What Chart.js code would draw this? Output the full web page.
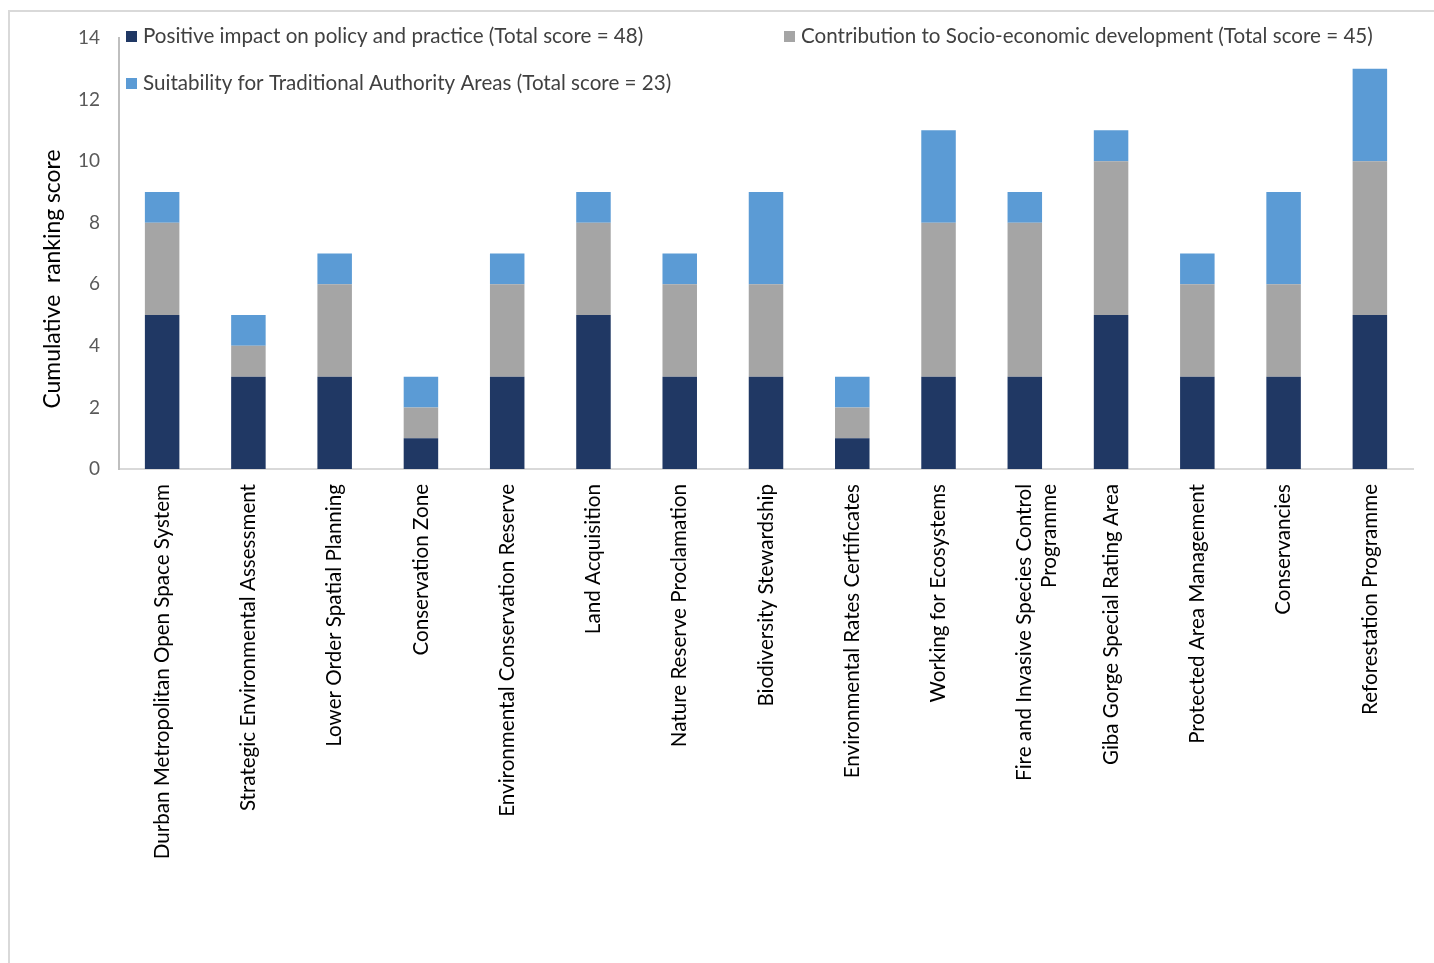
<!DOCTYPE html>
<html>
<head>
<meta charset="utf-8">
<title>Cumulative ranking score</title>
<script src="https://cdn.jsdelivr.net/npm/chart.js@4.4.1/dist/chart.umd.min.js"></script>
<style>
    html, body { margin: 0; padding: 0; background: #fff; }
    #wrap { width: 1434px; height: 963px; }
</style>
</head>
<body>
<div id="wrap"><canvas id="chart" width="1434" height="963"></canvas></div>
<script>
// Chart data
const categories = [
    'Durban Metropolitan Open Space System',
    'Strategic Environmental Assessment',
    'Lower Order Spatial Planning',
    'Conservation Zone',
    'Environmental Conservation Reserve',
    'Land Acquisition',
    'Nature Reserve Proclamation',
    'Biodiversity Stewardship',
    'Environmental Rates Certificates',
    'Working for Ecosystems',
    ['Fire and Invasive Species Control', 'Programme'],
    'Giba Gorge Special Rating Area',
    'Protected Area Management',
    'Conservancies',
    'Reforestation Programme'
];
const policyScores      = [5, 3, 3, 1, 3, 5, 3, 3, 1, 3, 3, 5, 3, 3, 5];
const socioScores       = [3, 1, 3, 1, 3, 3, 3, 3, 1, 5, 5, 5, 3, 3, 5];
const traditionalScores = [1, 1, 1, 1, 1, 1, 1, 3, 1, 3, 1, 1, 1, 3, 3];
const seriesNames = [
    'Positive impact on policy and practice (Total score = 48)',
    'Contribution to Socio-economic development (Total score = 45)',
    'Suitability for Traditional Authority Areas (Total score = 23)'
];
const yMin = 0, yMax = 14, yStep = 2;
const yTitle = 'Cumulative  ranking score';

const FONT = 'Lato, "Open Sans", sans-serif';

// thin grey frame around the figure (top + left edge)
const framePlugin = {
    id: 'frame',
    beforeDraw(chart) {
        const ctx = chart.ctx;
        ctx.save();
        ctx.strokeStyle = '#d9d9d9';
        ctx.lineWidth = 2;
        ctx.beginPath();
        ctx.moveTo(9, chart.height);
        ctx.lineTo(9, 11);
        ctx.lineTo(chart.width, 11);
        ctx.stroke();
        ctx.restore();
    }
};

// legend drawn inside the plot area, like the original
const legendPlugin = {
    id: 'innerLegend',
    afterDraw(chart) {
        const ctx = chart.ctx;
        const spots = [[126, 36], [784, 36], [126, 83]];
        ctx.save();
        ctx.font = '20.6px ' + FONT;
        ctx.textBaseline = 'middle';
        chart.data.datasets.forEach((ds, i) => {
            const [x, y] = spots[i];
            ctx.fillStyle = ds.backgroundColor;
            ctx.fillRect(x, y - 5, 11, 11);
            ctx.fillStyle = '#404040';
            ctx.fillText(ds.label, x + 17, y);
        });
        ctx.restore();
    }
};

// y axis title, placed like the original
const yTitlePlugin = {
    id: 'yTitle',
    afterDraw(chart) {
        const ctx = chart.ctx;
        ctx.save();
        ctx.translate(53, 279);
        ctx.rotate(-Math.PI / 2);
        ctx.font = '22.9px ' + FONT;
        ctx.fillStyle = '#000';
        ctx.textAlign = 'center';
        ctx.textBaseline = 'middle';
        ctx.fillText(yTitle, 0, 0);
        ctx.restore();
    }
};

const ctx = document.getElementById('chart').getContext('2d');
new Chart(ctx, {
    type: 'bar',
    data: {
        labels: categories,
        datasets: [
            { label: seriesNames[0], data: policyScores, backgroundColor: '#203864' },
            { label: seriesNames[1], data: socioScores, backgroundColor: '#a5a5a5' },
            { label: seriesNames[2], data: traditionalScores, backgroundColor: '#5b9bd5' }
        ]
    },
    options: {
        responsive: false,
        animation: false,
        devicePixelRatio: 1,
        layout: { padding: { top: 38, right: 21, left: 0, bottom: 0 } },
        datasets: { bar: { categoryPercentage: 1, barPercentage: 0.4 } },
        plugins: {
            legend: { display: false },
            tooltip: { enabled: false }
        },
        scales: {
            x: {
                stacked: true,
                grid: { display: false, drawTicks: false },
                border: { color: '#d9d9d9', width: 2 },
                ticks: {
                    autoSkip: false,
                    minRotation: 90,
                    maxRotation: 90,
                    padding: 15,
                    color: '#000',
                    font: { family: FONT, size: 20.6 }
                },
                afterFit(scale) { scale.height = 494; }
            },
            y: {
                stacked: true,
                min: yMin,
                max: yMax,
                grid: { display: false, drawTicks: false },
                border: { color: '#bfbfbf', width: 2 },
                ticks: {
                    stepSize: yStep,
                    padding: 19,
                    color: '#595959',
                    font: { family: FONT, size: 19 }
                },
                afterFit(scale) { scale.width = 119; }
            }
        }
    },
    plugins: [framePlugin, legendPlugin, yTitlePlugin]
});
</script>
</body>
</html>
